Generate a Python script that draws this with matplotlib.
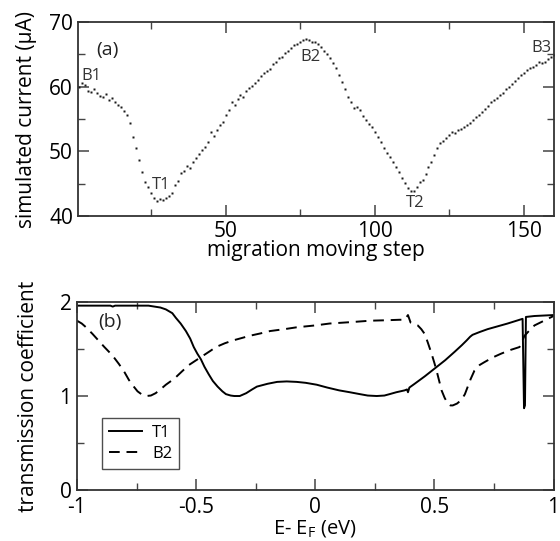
import matplotlib
matplotlib.use("Agg")
import matplotlib.pyplot as plt
from matplotlib.ticker import MultipleLocator

plt.rcParams["font.family"] = ["Open Sans", "DejaVu Sans"]
plt.rcParams["mathtext.default"] = "regular"

# (a) simulated current along the migration path, one value per step
steps = list(range(1, 161))
current = [
    60.0, 60.6, 60.2, 59.4, 59.2, 59.6, 59.0, 58.6, 58.4, 58.8,
    57.9, 58.2, 57.6, 57.2, 56.8, 56.3, 55.6, 54.4, 52.2, 50.5,
    48.7, 46.8, 45.3, 44.5, 43.5, 42.8, 42.3, 42.6, 42.4, 42.7,
    43.1, 43.6, 44.8, 45.4, 46.6, 46.9, 47.7, 47.4, 48.3, 49.0,
    49.6, 50.2, 50.7, 51.5, 53.0, 52.4, 53.3, 54.0, 54.6, 55.6,
    56.4, 57.6, 57.2, 58.1, 58.7, 58.4, 59.3, 59.8, 60.1, 60.6,
    61.0, 61.6, 62.2, 62.5, 62.8, 63.5, 63.8, 64.4, 64.6, 65.3,
    65.5, 66.0, 66.4, 66.6, 67.0, 67.2, 67.4, 67.3, 67.0, 66.9,
    66.6, 66.1, 65.6, 65.0, 64.4, 63.6, 62.9, 61.8, 60.7, 59.6,
    58.4, 57.6, 56.7, 56.9, 56.4, 55.5, 54.8, 54.2, 53.8, 53.0,
    52.2, 51.4, 50.5, 49.8, 49.1, 48.4, 47.6, 46.8, 45.9, 45.1,
    44.3, 43.8, 43.9, 44.5, 45.2, 45.6, 46.5, 47.6, 48.4, 49.4,
    50.5, 51.3, 51.6, 52.0, 52.6, 53.0, 52.8, 53.3, 53.5, 53.8,
    54.1, 54.4, 54.8, 55.3, 55.7, 56.1, 56.6, 57.0, 57.6, 57.9,
    58.3, 58.7, 59.1, 59.6, 60.0, 60.4, 60.9, 61.3, 61.8, 62.1,
    62.6, 62.9, 63.1, 63.3, 63.9, 63.6, 63.8, 64.3, 64.6, 64.9,
]
site_labels = ["B1", "T1", "B2", "T2", "B3"]
site_x = [5, 28.3, 78.3, 113.7, 156]
site_y = [61.6, 44.8, 64.6, 42.0, 66.0]

# (b) transmission coefficient vs energy
e_t1 = [-1.0, -0.86, -0.85, -0.84, -0.7, -0.65, -0.627, -0.6, -0.585, -0.565,
        -0.543, -0.525, -0.51, -0.495, -0.48, -0.465, -0.447, -0.43, -0.41,
        -0.39, -0.375, -0.355, -0.34, -0.317, -0.29, -0.265, -0.245, -0.2,
        -0.16, -0.12, -0.078, -0.04, 0.006, 0.05, 0.10, 0.145, 0.187, 0.22,
        0.258, 0.29, 0.312, 0.34, 0.375, 0.385, 0.389, 0.395, 0.417, 0.46,
        0.50, 0.545, 0.585, 0.615, 0.635, 0.65, 0.66, 0.69, 0.723, 0.807,
        0.870, 0.876, 0.880, 0.884, 0.92, 1.0]
t_t1 = [1.96, 1.96, 1.95, 1.96, 1.96, 1.94, 1.92, 1.88, 1.83, 1.77,
        1.69, 1.61, 1.52, 1.45, 1.39, 1.31, 1.23, 1.16, 1.10,
        1.05, 1.02, 1.005, 1.00, 1.00, 1.03, 1.07, 1.10, 1.13,
        1.15, 1.155, 1.15, 1.14, 1.12, 1.09, 1.06, 1.04, 1.02, 1.005,
        1.00, 1.005, 1.02, 1.04, 1.06, 1.07, 1.04, 1.09, 1.13, 1.21,
        1.29, 1.38, 1.47, 1.54, 1.59, 1.63, 1.65, 1.68, 1.71, 1.77,
        1.82, 0.87, 0.90, 1.84, 1.85, 1.86]
e_b2 = [-1.0, -0.98, -0.962, -0.935, -0.91, -0.885, -0.866, -0.845, -0.824,
        -0.80, -0.782, -0.765, -0.746, -0.73, -0.71, -0.69, -0.67, -0.65,
        -0.627, -0.605, -0.585, -0.56, -0.53, -0.50, -0.47, -0.44, -0.417,
        -0.38, -0.346, -0.31, -0.275, -0.23, -0.19, -0.13, -0.078, 0.0, 0.06,
        0.15, 0.23, 0.30, 0.354, 0.375, 0.389, 0.40, 0.415, 0.43, 0.445,
        0.459, 0.472, 0.488, 0.50, 0.51, 0.52, 0.53, 0.543, 0.556, 0.567,
        0.577, 0.595, 0.614, 0.628, 0.64, 0.652, 0.668, 0.69, 0.71, 0.745,
        0.78, 0.82, 0.857, 0.878, 0.90, 0.92, 0.96, 1.0]
t_b2 = [1.80, 1.77, 1.73, 1.66, 1.59, 1.52, 1.47, 1.41, 1.34,
        1.25, 1.17, 1.11, 1.05, 1.02, 1.00, 1.005, 1.03, 1.07,
        1.12, 1.16, 1.20, 1.26, 1.33, 1.38, 1.43, 1.48, 1.52,
        1.56, 1.59, 1.615, 1.64, 1.665, 1.69, 1.71, 1.73, 1.75, 1.77,
        1.785, 1.80, 1.805, 1.81, 1.81, 1.86, 1.78, 1.765, 1.75, 1.71,
        1.66, 1.57, 1.45, 1.35, 1.26, 1.16, 1.06, 0.98, 0.92, 0.90,
        0.90, 0.92, 0.96, 1.02, 1.10, 1.18, 1.27, 1.33, 1.36, 1.41,
        1.45, 1.49, 1.52, 1.64, 1.70, 1.75, 1.80, 1.85]

fig = plt.figure(figsize=(5.6, 5.41), dpi=100)
ax1 = fig.add_axes([0.139, 0.601, 0.850, 0.358])
ax2 = fig.add_axes([0.1375, 0.094, 0.851, 0.348])

for ax in (ax1, ax2):
    for s in ax.spines.values():
        s.set_linewidth(1.3)
        s.set_color("#333333")
    ax.tick_params(which="both", direction="in", top=True, right=True,
                   color="#444444", labelsize=15)
    ax.tick_params(which="major", length=8, width=1.1)
    ax.tick_params(which="minor", length=5, width=1.0)

ax1.plot(steps, current, ls="none", marker="s", ms=2.0, color="#1a1a1a", mec="none")
for lab, x, y in zip(site_labels, site_x, site_y):
    ax1.text(x, y, lab, fontsize=12, ha="center", va="center", color="#333333")
ax1.text(10.3, 65.7, "(a)", fontsize=14, ha="center", va="center", color="#222222")
ax1.set_xlim(0.5, 160)
ax1.set_ylim(40, 70)
ax1.xaxis.set_major_locator(MultipleLocator(50))
ax1.xaxis.set_minor_locator(MultipleLocator(25))
ax1.yaxis.set_major_locator(MultipleLocator(10))
ax1.yaxis.set_minor_locator(MultipleLocator(5))
ax1.set_xticks([50, 100, 150])
ax1.set_xlabel("migration moving step", fontsize=15, labelpad=-1)
ax1.set_ylabel("simulated current (\u03bcA)", fontsize=15, labelpad=9)

ax2.plot(e_t1, t_t1, "-", color="black", lw=1.4, label="T1")
ax2.plot(e_b2, t_b2, "--", color="black", lw=1.4, dashes=(5.5, 3.5), label="B2")
ax2.text(-0.86, 1.79, "(b)", fontsize=14, ha="center", va="center", color="#222222")
ax2.set_xlim(-1, 1)
ax2.set_ylim(0, 2)
ax2.xaxis.set_major_locator(MultipleLocator(0.5))
ax2.xaxis.set_minor_locator(MultipleLocator(0.25))
ax2.yaxis.set_major_locator(MultipleLocator(1))
ax2.yaxis.set_minor_locator(MultipleLocator(0.5))
ax2.set_xticks([-1, -0.5, 0, 0.5, 1])
ax2.set_xticklabels(["-1", "-0.5", "0", "0.5", "1"])
ax2.tick_params(axis="x", pad=5)
ax2.tick_params(axis="y", pad=4)
ax2.set_xlabel("E- E$_F$ (eV)", fontsize=14.5, labelpad=0)
ax2.set_ylabel("transmission coefficient", fontsize=15, labelpad=15)
leg = ax2.legend(loc="upper left", bbox_to_anchor=(0.035, 0.425), fontsize=12,
                 frameon=True, fancybox=False, handlelength=2.0,
                 borderpad=0.4, labelspacing=0.3, handletextpad=0.6)
leg.get_frame().set_edgecolor("#222222")
leg.get_frame().set_linewidth(1.0)

fig.savefig("out.png", dpi=100)
